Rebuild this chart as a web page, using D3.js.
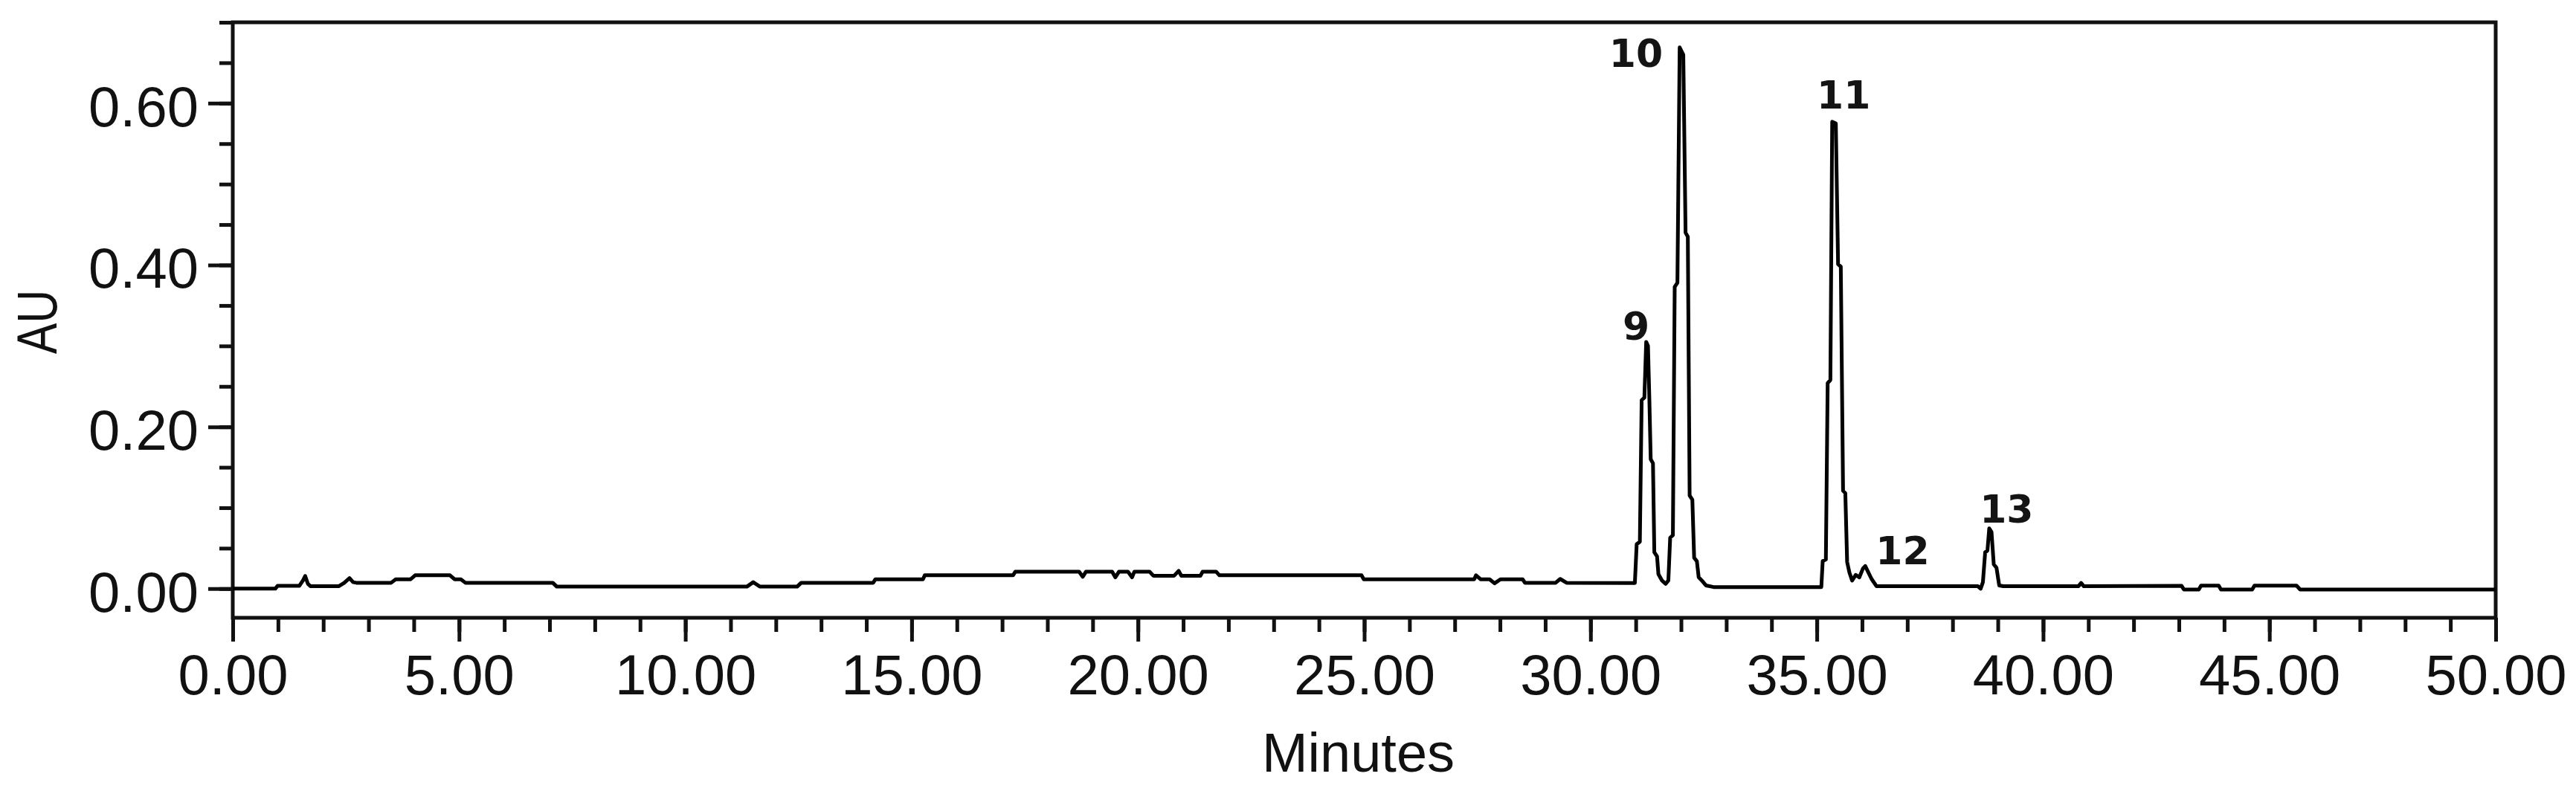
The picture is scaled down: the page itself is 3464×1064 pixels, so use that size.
<!DOCTYPE html>
<html>
<head>
<meta charset="utf-8">
<script src="https://cdn.jsdelivr.net/npm/d3@7"></script>
<style>
  body { margin: 0; background: #fff; }
  svg { display: block; }
</style>
</head>
<body>
<svg id="chart" width="3464" height="1064"></svg>
<script>
// chromatogram trace (minutes, AU)
const minutes = [
  0.00, 0.94, 0.99, 1.47, 1.55, 1.60, 1.66, 1.72, 2.34, 2.46, 2.58, 2.66, 2.73, 3.50, 3.60, 3.93,
  4.03, 4.80, 4.90, 5.04, 5.14, 7.07, 7.16, 11.36, 11.50, 11.65, 12.47, 12.56, 14.15, 14.20, 15.25, 15.29,
  17.24, 17.29, 18.70, 18.78, 18.85, 19.43, 19.50, 19.58, 19.78, 19.87, 19.92, 20.26, 20.34, 20.80, 20.90, 20.96,
  21.38, 21.43, 21.73, 21.80, 24.94, 24.99, 27.43, 27.47, 27.57, 27.77, 27.88, 28.01, 28.50, 28.55, 29.23, 29.33,
  29.47, 30.98, 31.02, 31.09, 31.13, 31.19, 31.23, 31.27, 31.30, 31.33, 31.38, 31.41, 31.47, 31.50, 31.58, 31.66,
  31.72, 31.76, 31.82, 31.86, 31.92, 31.97, 32.05, 32.10, 32.15, 32.19, 32.25, 32.29, 32.35, 32.39, 32.46, 32.55,
  32.72, 35.10, 35.13, 35.20, 35.24, 35.30, 35.34, 35.42, 35.47, 35.53, 35.58, 35.63, 35.67, 35.72, 35.78, 35.86,
  35.94, 36.02, 36.07, 36.14, 36.21, 36.32, 38.56, 38.62, 38.67, 38.72, 38.77, 38.81, 38.86, 38.91, 38.97, 39.03,
  39.12, 40.78, 40.84, 40.90, 43.06, 43.11, 43.44, 43.49, 43.88, 43.93, 44.62, 44.67, 45.60, 45.68, 50.00
];
const au = [
  0.000, 0.000, 0.0034, 0.0034, 0.010, 0.0156, 0.006, 0.003, 0.003, 0.007, 0.013, 0.008, 0.0073, 0.0073, 0.0116, 0.0116,
  0.0165, 0.0165, 0.0116, 0.0116, 0.0073, 0.0073, 0.0025, 0.0025, 0.008, 0.0025, 0.0025, 0.0073, 0.0073, 0.0116, 0.0116, 0.0165,
  0.0165, 0.0209, 0.0209, 0.0147, 0.0209, 0.0209, 0.014, 0.0209, 0.0209, 0.014, 0.0209, 0.0209, 0.016, 0.016, 0.022, 0.016,
  0.016, 0.0209, 0.0209, 0.0165, 0.0165, 0.0116, 0.0116, 0.0165, 0.0116, 0.0116, 0.0066, 0.0116, 0.0116, 0.0073, 0.0073, 0.012,
  0.0073, 0.007, 0.055, 0.058, 0.233, 0.236, 0.305, 0.300, 0.235, 0.160, 0.155, 0.045, 0.040, 0.018, 0.010, 0.006,
  0.010, 0.063, 0.066, 0.373, 0.378, 0.669, 0.660, 0.440, 0.435, 0.115, 0.110, 0.038, 0.034, 0.014, 0.010, 0.004,
  0.002, 0.002, 0.034, 0.036, 0.254, 0.258, 0.577, 0.575, 0.401, 0.398, 0.121, 0.118, 0.033, 0.020, 0.010, 0.017,
  0.014, 0.025, 0.028, 0.020, 0.012, 0.003, 0.003, 0.000, 0.008, 0.045, 0.047, 0.0745, 0.070, 0.030, 0.026, 0.004,
  0.003, 0.003, 0.007, 0.003, 0.0034, -0.001, -0.001, 0.0037, 0.0037, -0.001, -0.001, 0.0037, 0.0037, -0.001, -0.001
];

// peak annotations: label text and where its text starts (minutes, AU at baseline)
const peakNames = ["9", "10", "11", "12", "13"];
const peakLabelMin = [30.71, 30.41, 35.00, 36.30, 38.60];
const peakLabelAU = [0.308, 0.645, 0.593, 0.030, 0.082];

// axis ticks
const xMajor = [0, 5, 10, 15, 20, 25, 30, 35, 40, 45, 50];
const xMinor = d3.range(0, 51, 1);
const yMajor = [0, 0.2, 0.4, 0.6];
const yMinor = [0, 0.05, 0.1, 0.15, 0.2, 0.25, 0.3, 0.35, 0.4, 0.45, 0.5, 0.55, 0.6, 0.65, 0.7];

const plotL = 313, plotR = 3356, plotT = 30, plotB = 831;
const font = "'Liberation Sans', Arial, sans-serif";

const x = d3.scaleLinear().domain([0, 50]).range([plotL, plotR]);
const y = d3.scaleLinear().domain([-0.036, 0.70]).range([plotB, plotT]);

const svg = d3.select("#chart");
svg.append("rect").attr("width", 3464).attr("height", 1064).attr("fill", "#fff");

const fmt = d3.format(".2f");

function styleAxis(g) {
  g.select(".domain").remove();
  g.selectAll("line").attr("stroke", "#111").attr("stroke-width", 5);
  g.selectAll("text").attr("fill", "#111").style("font-family", font).style("font-size", "76px");
}

// y axis: minor ticks then labelled major ticks
svg.append("g").attr("transform", `translate(${plotL},0)`)
  .call(d3.axisLeft(y).tickValues(yMinor).tickSize(18).tickFormat(""))
  .call(styleAxis);
svg.append("g").attr("transform", `translate(${plotL},0)`)
  .call(d3.axisLeft(y).tickValues(yMajor).tickSize(33).tickPadding(13).tickFormat(fmt))
  .call(styleAxis)
  .selectAll("text").attr("dy", "0.4em");

// x axis
svg.append("g").attr("transform", `translate(0,${plotB})`)
  .call(d3.axisBottom(x).tickValues(xMinor).tickSize(19).tickFormat(""))
  .call(styleAxis);
svg.append("g").attr("transform", `translate(0,${plotB})`)
  .call(d3.axisBottom(x).tickValues(xMajor).tickSize(32).tickPadding(17).tickFormat(fmt))
  .call(styleAxis);

// frame
svg.append("rect")
  .attr("x", plotL).attr("y", plotT)
  .attr("width", plotR - plotL).attr("height", plotB - plotT)
  .attr("fill", "none").attr("stroke", "#111").attr("stroke-width", 5);

// trace
const pts = minutes.map((m, i) => [m, au[i]]);
const line = d3.line().x(d => x(d[0])).y(d => y(d[1]));
svg.append("path")
  .datum(pts)
  .attr("fill", "none")
  .attr("stroke", "#000")
  .attr("stroke-width", 5)
  .attr("stroke-linejoin", "round")
  .attr("d", line);

// peak labels
svg.append("g").selectAll("text")
  .data(peakNames)
  .join("text")
  .attr("x", (d, i) => x(peakLabelMin[i]))
  .attr("y", (d, i) => y(peakLabelAU[i]))
  .attr("fill", "#141414")
  .style("font-family", "'DejaVu Sans', Verdana, sans-serif")
  .style("font-weight", "bold")
  .style("font-size", "52px")
  .text(d => d);

// axis titles
svg.append("text")
  .attr("x", (plotL + plotR) / 2 - 8)
  .attr("y", 1038)
  .attr("text-anchor", "middle")
  .attr("fill", "#111")
  .style("font-family", font)
  .style("font-size", "74px")
  .text("Minutes");

svg.append("text")
  .attr("transform", "translate(76,433) rotate(-90) scale(0.82,1)")
  .attr("text-anchor", "middle")
  .attr("fill", "#111")
  .style("font-family", font)
  .style("font-size", "76px")
  .text("AU");
</script>
</body>
</html>
